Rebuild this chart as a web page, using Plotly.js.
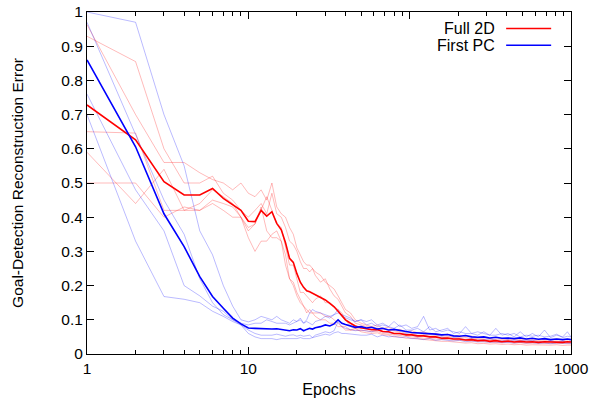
<!DOCTYPE html>
<html>
<head>
<meta charset="utf-8">
<script src="https://cdn.plot.ly/plotly-3.0.1.min.js"></script>
<style>html,body{margin:0;padding:0;background:#fff;}#chart{width:603px;height:406px;}</style>
</head>
<body>
<div id="chart"></div>
<script>
// Epochs (shared x values)
const epochs = [
  1,2,3,4,5,6,7,8,9,10,
  11,12,13,14,15,16,17,18,19,20,21,22,23,24,25,
  26,28,30,32,34,36,38,40,43,46,50,
  54,58,63,68,74,80, 87,95,103,112,122,133, 145,158,172,187,204,222,
  242,264,288,314,342,373, 407,444,484,528,576,628, 685,747,815,889,950,1000
];

// Full 2D: mean
const full2dMean = [
  0.728,0.626,0.504,0.465,0.465,0.484,0.455,0.435,0.42,0.388,
  0.387,0.42,0.403,0.416,0.382,0.363,0.325,0.28,0.268,0.235,0.21,0.195,0.185,0.182,0.178,
  0.172,0.165,0.158,0.148,0.138,0.125,0.112,0.10,0.09,0.082,0.077,
  0.074,0.071,0.072,0.066,0.065,0.060, 0.060,0.056,0.056,0.053,0.053,0.050, 0.050,0.046,0.047,0.044,0.044,0.041,
  0.042,0.039,0.040,0.037,0.039,0.036, 0.038,0.035,0.037,0.035,0.036,0.034, 0.036,0.035,0.036,0.034,0.036,0.035
];
// Full 2D: individual runs
const full2dRun1 = [
  0.963,0.70,0.56,0.56,0.53,0.51,0.50,0.48,0.50,0.47,
  0.46,0.48,0.45,0.50,0.43,0.41,0.40,0.37,0.35,0.31,0.29,0.27,0.26,0.26,0.25,
  0.24,0.23,0.21,0.20,0.19,0.17,0.15,0.13,0.12,0.10,0.09,
  0.085,0.08,0.085,0.075,0.078,0.07, 0.072,0.065,0.068,0.062,0.065,0.058, 0.06,0.055,0.058,0.052,0.055,0.05,
  0.052,0.048,0.05,0.045,0.048,0.044, 0.046,0.043,0.045,0.042,0.044,0.041, 0.043,0.042,0.044,0.041,0.043,0.042
];
const full2dRun2 = [
  0.929,0.855,0.60,0.50,0.50,0.52,0.47,0.45,0.42,0.40,
  0.42,0.44,0.41,0.47,0.41,0.40,0.37,0.33,0.32,0.30,0.27,0.25,0.25,0.24,0.25,
  0.23,0.21,0.22,0.19,0.17,0.16,0.14,0.12,0.11,0.09,0.085,
  0.08,0.078,0.075,0.072,0.07,0.068, 0.065,0.062,0.06,0.06,0.058,0.056, 0.055,0.052,0.052,0.05,0.048,0.047,
  0.046,0.045,0.044,0.042,0.043,0.041, 0.042,0.04,0.041,0.039,0.04,0.038, 0.039,0.038,0.039,0.037,0.038,0.037
];
const full2dRun3 = [
  0.65,0.646,0.42,0.42,0.44,0.48,0.46,0.44,0.40,0.37,
  0.38,0.43,0.36,0.34,0.34,0.33,0.29,0.22,0.20,0.17,0.15,0.14,0.12,0.13,0.12,
  0.12,0.12,0.11,0.11,0.10,0.09,0.08,0.08,0.07,0.07,0.07,
  0.068,0.065,0.066,0.06,0.058,0.055, 0.054,0.05,0.05,0.048,0.046,0.045, 0.044,0.042,0.041,0.04,0.039,0.037,
  0.037,0.035,0.036,0.034,0.034,0.033, 0.034,0.032,0.033,0.031,0.032,0.031, 0.032,0.031,0.031,0.03,0.031,0.03
];
const full2dRun4 = [
  0.59,0.44,0.54,0.42,0.42,0.45,0.44,0.43,0.40,0.34,
  0.30,0.33,0.33,0.35,0.36,0.33,0.26,0.22,0.21,0.18,0.16,0.14,0.13,0.12,0.12,
  0.11,0.10,0.10,0.09,0.09,0.08,0.08,0.07,0.07,0.075,0.065,
  0.062,0.06,0.062,0.056,0.055,0.05, 0.05,0.046,0.046,0.044,0.042,0.041, 0.04,0.037,0.037,0.035,0.035,0.032,
  0.033,0.03,0.031,0.029,0.03,0.028, 0.029,0.027,0.028,0.026,0.027,0.026, 0.027,0.026,0.027,0.025,0.026,0.026
];
const full2dRun5 = [
  0.50,0.50,0.40,0.43,0.42,0.44,0.42,0.40,0.40,0.36,
  0.38,0.42,0.46,0.42,0.38,0.37,0.31,0.26,0.26,0.22,0.18,0.18,0.17,0.16,0.15,
  0.16,0.17,0.15,0.15,0.14,0.13,0.12,0.10,0.08,0.075,0.075,
  0.075,0.072,0.07,0.066,0.065,0.06, 0.06,0.056,0.057,0.054,0.053,0.05, 0.05,0.047,0.047,0.044,0.044,0.042,
  0.041,0.04,0.039,0.038,0.038,0.037, 0.037,0.036,0.036,0.035,0.036,0.034, 0.035,0.034,0.035,0.034,0.035,0.034
];

// First PC: mean
const firstPcMean = [
  0.86,0.606,0.41,0.314,0.226,0.168,0.134,0.105,0.088,0.076,
  0.075,0.074,0.075,0.073,0.074,0.072,0.07,0.068,0.071,0.07,0.074,0.068,0.072,0.075,0.073,
  0.077,0.08,0.085,0.082,0.088,0.10,0.09,0.086,0.083,0.078,0.08,
  0.076,0.078,0.073,0.075,0.07,0.072, 0.068,0.066,0.063,0.062,0.06,0.061, 0.058,0.056,0.057,0.053,0.052,0.054,
  0.05,0.049,0.05,0.047,0.049,0.046, 0.047,0.045,0.047,0.044,0.046,0.043, 0.045,0.042,0.044,0.042,0.044,0.042
];
// First PC: individual runs
const firstPcRun1 = [
  1.0,0.97,0.70,0.55,0.36,0.29,0.20,0.14,0.10,0.094,
  0.10,0.11,0.105,0.10,0.11,0.10,0.095,0.09,0.10,0.095,0.105,0.09,0.10,0.12,0.13,
  0.125,0.12,0.115,0.11,0.115,0.13,0.11,0.105,0.10,0.095,0.10,
  0.095,0.10,0.085,0.09,0.08,0.095, 0.08,0.085,0.075,0.08,0.11,0.07, 0.075,0.065,0.07,0.065,0.06,0.08,
  0.06,0.065,0.06,0.055,0.075,0.055, 0.06,0.05,0.065,0.05,0.06,0.05, 0.07,0.048,0.055,0.05,0.065,0.05
];
const firstPcRun2 = [
  0.97,0.64,0.45,0.35,0.22,0.15,0.115,0.10,0.09,0.085,
  0.09,0.09,0.10,0.095,0.09,0.09,0.09,0.085,0.09,0.095,0.10,0.09,0.095,0.09,0.085,
  0.095,0.10,0.11,0.105,0.115,0.12,0.115,0.11,0.105,0.095,0.10,
  0.085,0.09,0.08,0.085,0.08,0.075, 0.085,0.07,0.07,0.075,0.065,0.08, 0.065,0.07,0.075,0.06,0.065,0.06,
  0.06,0.055,0.065,0.055,0.055,0.06, 0.055,0.06,0.05,0.055,0.052,0.055, 0.05,0.052,0.058,0.048,0.052,0.05
];
const firstPcRun3 = [
  0.76,0.48,0.36,0.20,0.17,0.14,0.125,0.10,0.085,0.07,
  0.06,0.055,0.055,0.055,0.058,0.055,0.052,0.055,0.056,0.052,0.055,0.052,0.053,0.055,0.048,
  0.055,0.06,0.065,0.062,0.068,0.095,0.08,0.075,0.072,0.068,0.07,
  0.068,0.065,0.07,0.065,0.062,0.06, 0.058,0.06,0.055,0.05,0.055,0.05, 0.048,0.05,0.045,0.048,0.045,0.042,
  0.045,0.04,0.042,0.045,0.04,0.038, 0.042,0.038,0.04,0.038,0.04,0.036, 0.035,0.038,0.035,0.037,0.034,0.036
];
const firstPcRun4 = [
  0.70,0.33,0.168,0.16,0.15,0.125,0.11,0.095,0.085,0.06,
  0.05,0.045,0.045,0.045,0.042,0.045,0.045,0.045,0.044,0.045,0.048,0.045,0.045,0.045,0.048,
  0.05,0.055,0.058,0.055,0.062,0.065,0.06,0.06,0.058,0.058,0.055,
  0.055,0.058,0.05,0.055,0.05,0.052, 0.048,0.05,0.045,0.045,0.042,0.045, 0.04,0.042,0.04,0.038,0.04,0.036,
  0.038,0.035,0.036,0.034,0.035,0.033, 0.034,0.032,0.034,0.032,0.033,0.031, 0.032,0.03,0.032,0.031,0.03,0.031
];

const seriesNames = ['Full 2D', 'First PC'];
const xTickVals = [1, 10, 100, 1000];
const xTickText = ['1', '10', '100', '1000'];
const xMinorVals = [2,3,4,5,6,7,8,9,20,30,40,50,60,70,80,90,200,300,400,500,600,700,800,900];

const FONT = 'Liberation Sans, Arial, Helvetica, sans-serif';
const faint = (y, color) => ({x: epochs, y: y, type: 'scatter', mode: 'lines',
  line: {color: color, width: 1}, showlegend: false, hoverinfo: 'skip'});

const traces = [
  faint(full2dRun1, 'rgba(255,0,0,0.27)'),
  faint(full2dRun2, 'rgba(255,0,0,0.27)'),
  faint(full2dRun3, 'rgba(255,0,0,0.27)'),
  faint(full2dRun4, 'rgba(255,0,0,0.27)'),
  faint(full2dRun5, 'rgba(255,0,0,0.27)'),
  faint(firstPcRun1, 'rgba(0,0,255,0.27)'),
  faint(firstPcRun2, 'rgba(0,0,255,0.27)'),
  faint(firstPcRun3, 'rgba(0,0,255,0.27)'),
  faint(firstPcRun4, 'rgba(0,0,255,0.27)'),
  {x: epochs, y: full2dMean, type: 'scatter', mode: 'lines', name: seriesNames[0],
   line: {color: '#ff0000', width: 1.6}, showlegend: false},
  {x: epochs, y: firstPcMean, type: 'scatter', mode: 'lines', name: seriesNames[1],
   line: {color: '#0000ff', width: 1.6}, showlegend: false}
];

const axisCommon = {
  showline: true, linecolor: '#000', linewidth: 1, mirror: 'allticks',
  ticks: 'inside', ticklen: 7, tickcolor: '#000', tickwidth: 1,
  showgrid: false, zeroline: false,
  tickfont: {family: FONT, size: 15.5, color: '#000'}
};

const layout = {
  width: 603, height: 406,
  margin: {l: 87, r: 32, t: 12, b: 52},
  paper_bgcolor: '#fff', plot_bgcolor: '#fff',
  font: {family: FONT, size: 15.5, color: '#000'},
  showlegend: false,
  xaxis: Object.assign({}, axisCommon, {
    type: 'log', range: [0, 3], tickvals: xTickVals, ticktext: xTickText,
    minor: {tickvals: xMinorVals, ticks: 'inside', ticklen: 4, tickcolor: '#000', showgrid: false},
    title: {text: 'Epochs', font: {family: FONT, size: 16, color: '#000'}, standoff: 8}
  }),
  yaxis: Object.assign({}, axisCommon, {
    range: [0, 1], dtick: 0.1, tick0: 0,
    title: {text: 'Goal-Detection Reconstruction Error', font: {family: FONT, size: 15.5, color: '#000'}, standoff: 33}
  }),
  annotations: [
    {xref: 'paper', yref: 'paper', x: 0.847, y: 0.952, xanchor: 'right', yanchor: 'middle',
     text: seriesNames[0], showarrow: false, font: {family: FONT, size: 16, color: '#000'}},
    {xref: 'paper', yref: 'paper', x: 0.847, y: 0.903, xanchor: 'right', yanchor: 'middle',
     text: seriesNames[1], showarrow: false, font: {family: FONT, size: 16, color: '#000'}}
  ],
  shapes: [
    {type: 'line', xref: 'paper', yref: 'paper', x0: 0.866, x1: 0.959, y0: 0.952, y1: 0.952,
     line: {color: '#ff0000', width: 1.5}},
    {type: 'line', xref: 'paper', yref: 'paper', x0: 0.866, x1: 0.959, y0: 0.903, y1: 0.903,
     line: {color: '#0000ff', width: 1.5}}
  ]
};

Plotly.newPlot('chart', traces, layout, {staticPlot: true, displayModeBar: false});
</script>
</body>
</html>
